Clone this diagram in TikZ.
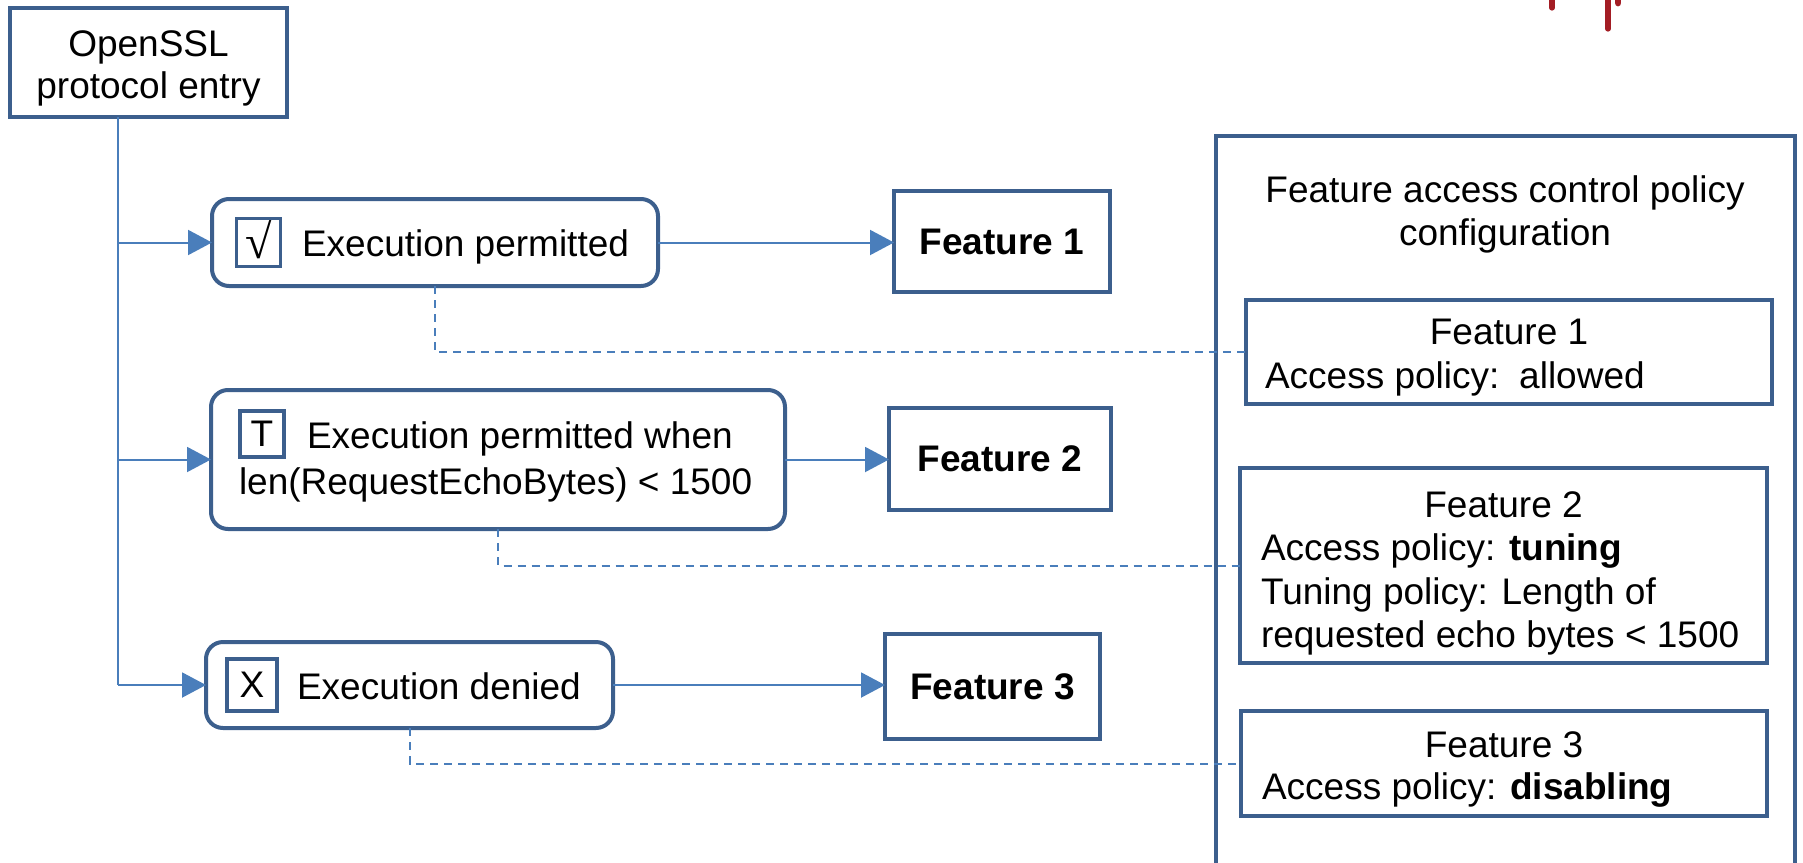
\documentclass[tikz,border=0pt]{standalone}
\usepackage{fontspec}
\setmainfont{Liberation Sans}
\newfontfamily\serifsym{Liberation Serif}
\usetikzlibrary{arrows.meta}
\definecolor{bord}{HTML}{3C5F8D}
\definecolor{conn}{HTML}{4A7EBB}
\definecolor{drip}{HTML}{A31D24}
\begin{document}
\begin{tikzpicture}[x=0.5pt,y=-0.5pt, font=\fontsize{18.5pt}{21.5pt}\selectfont,
  box/.style={draw=bord, line width=2pt, fill=white, inner sep=0pt, outer sep=0pt},
  rbox/.style={box, rounded corners=8.5pt},
  chk/.style={draw=bord, line width=1.8pt, inner sep=0pt, outer sep=0pt},
  txt/.style={inner sep=0pt, outer sep=0pt, anchor=base west},
  ctxt/.style={inner sep=0pt, outer sep=0pt, anchor=base},
  link/.style={draw=conn, line width=1pt},
  arr/.style={link, -{Triangle[length=12pt,width=12.5pt]}},
  dlink/.style={link, dash pattern=on 4pt off 3pt},
]
\useasboundingbox (0,0) rectangle (1803,862);

% red marks at top
\draw[drip, line width=2.6pt, line cap=round] (1552,-6) -- (1552,8);
\draw[drip, line width=2.6pt, line cap=round] (1608,-6) -- (1608,29);
\draw[drip, line width=3.4pt, line cap=round] (1618,-6) -- (1618,3);

% policy panel
\draw[draw=bord, line width=2pt] (1216,875) -- (1216,136) -- (1795,136) -- (1795,875);
\node[ctxt] (pt1) at (1505,202) {Feature access control policy};
\node[ctxt] (pt2) at (1505,245) {configuration};

% entry
\node[box, minimum width=138.5pt, minimum height=54.5pt] (o) at (148.5,62.5) {};
\node[ctxt] (ot1) at (148.5,56) {OpenSSL};
\node[ctxt] (ot2) at (148.5,98) {protocol entry};
\coordinate (tr) at (118,0);

% row 1
\node[rbox, minimum width=223pt, minimum height=43.5pt] (b1) at (435,242.5) {};
\node[chk, minimum width=22pt, minimum height=24pt] (c1) at (258.5,242.5) {};
\node[inner sep=0pt] (s1) at (258.5,240) {\fontsize{24pt}{24pt}\selectfont\serifsym √};
\node[txt] (t1) at (302,256) {Execution permitted};
\node[box, minimum width=108pt, minimum height=50.5pt] (f1) at (1002,241.5) {\textbf{Feature 1}};

% row 2
\node[rbox, minimum width=287pt, minimum height=69.5pt] (b2) at (498,459.5) {};
\node[chk, minimum width=22pt, minimum height=23pt] (c2) at (262,434) {};
\node[inner sep=0pt] (s2) at (262,434) {T};
\node[txt] (t2a) at (307,448) {Execution permitted when};
\node[txt] (t2b) at (239,494) {len(RequestEchoBytes) < 1500};
\node[box, minimum width=111pt, minimum height=51pt] (f2) at (1000,459) {\textbf{Feature 2}};

% row 3
\node[rbox, minimum width=203.5pt, minimum height=43pt] (b3) at (409.5,685) {};
\node[chk, minimum width=25pt, minimum height=26pt] (c3) at (252,685) {};
\node[inner sep=0pt] (s3) at (252,685) {X};
\node[txt] (t3) at (297,699) {Execution denied};
\node[box, minimum width=107.5pt, minimum height=52.5pt] (f3) at (992.5,686.5) {\textbf{Feature 3}};

% policy boxes
\node[box, minimum width=263pt, minimum height=52pt] (p1) at (1509,352) {};
\node[ctxt] (p1a) at (1509,344) {Feature 1};
\node[txt] (p1b) at (1265,388) {Access policy:\, allowed};

\node[box, minimum width=263.5pt, minimum height=97.5pt] (p2) at (1503.5,565.5) {};
\node[ctxt] (p2a) at (1503.5,517) {Feature 2};
\node[txt] (p2b) at (1261,560) {Access policy: \textbf{tuning}};
\node[txt] (p2c) at (1261,604) {Tuning policy: Length of};
\node[txt] (p2d) at (1261,647) {requested echo bytes < 1500};

\node[box, minimum width=263pt, minimum height=52.5pt] (p3) at (1504,763.5) {};
\node[ctxt] (p3a) at (1504,757) {Feature 3};
\node[txt] (p3b) at (1262,799) {Access policy: \textbf{disabling}};

% connectors
\draw[link] (o.south -| tr) -- (b3.west -| tr);
\draw[arr] (b1.west -| tr) -- (b1.west);
\draw[arr] (b2.west -| tr) -- (b2.west);
\draw[arr] (b3.west -| tr) -- (b3.west);
\draw[arr] (b1.east) -- (b1.east -| f1.west);
\draw[arr] (b2.east) -- (b2.east -| f2.west);
\draw[arr] (b3.east) -- (b3.east -| f3.west);
\draw[dlink] (b1.south) |- (p1.west);
\draw[dlink] (b2.south) |- (p2.west);
\draw[dlink] (b3.south) |- (p3.west);
\end{tikzpicture}
\end{document}
